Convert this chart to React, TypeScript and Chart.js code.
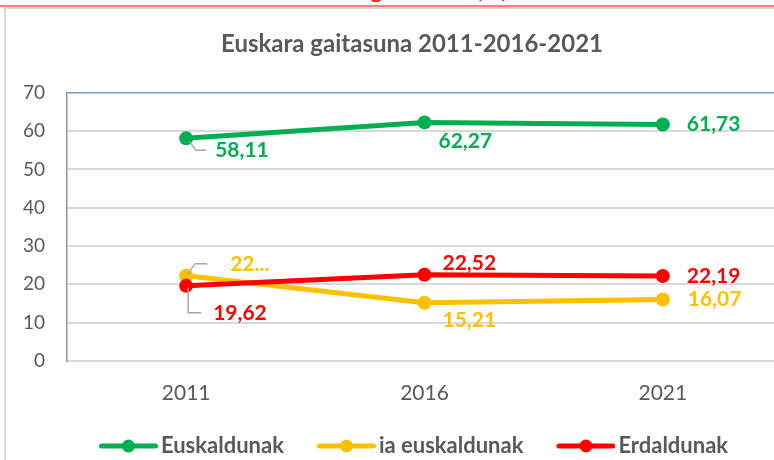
import React, { useEffect, useRef } from "react";
import { Chart, registerables } from "chart.js";

Chart.register(...registerables);

const categories = ["2011", "2016", "2021"];
const seriesNames = ["Euskaldunak", "ia euskaldunak", "Erdaldunak"];
const euskaldunak = [58.11, 62.27, 61.73];
const iaEuskaldunak = [22.27, 15.21, 16.07];
const erdaldunak = [19.62, 22.52, 22.19];
const euskaldunakLabels = ["58,11", "62,27", "61,73"];
const iaEuskaldunakLabels = ["22...", "15,21", "16,07"];
const erdaldunakLabels = ["19,62", "22,52", "22,19"];
const yMin = 0;
const yMax = 70;
const yStep = 10;

const colors = ["#00B050", "#FFC000", "#FF0000"];
const FONT = 'Lato, "Open Sans", sans-serif';
const TEXT = "#595959";

// label placement relative to the point (px): text left offset, vertical centre offset, optional leader
type Place = { dx: number; dy: number; leader?: number[][] };
const placements: Place[][] = [
  [
    { dx: 29, dy: 12, leader: [[3, 3], [10, 12], [20, 12]] },
    { dx: 14, dy: 19 },
    { dx: 24, dy: 0 },
  ],
  [
    { dx: 44, dy: -11, leader: [[1, -1], [9, -12], [21, -12]] },
    { dx: 18, dy: 18 },
    { dx: 25, dy: 0 },
  ],
  [
    { dx: 27, dy: 27, leader: [[2, 2], [2, 27], [15, 27]] },
    { dx: 18, dy: -11 },
    { dx: 24, dy: 0 },
  ],
];

// legend marker: a line with a dot, overhanging the legend box so it nearly touches the text
function legendImage(color: string) {
  const c = document.createElement("canvas");
  c.width = 70;
  c.height = 16;
  const g = c.getContext("2d")!;
  g.strokeStyle = color;
  g.lineWidth = 5;
  g.lineCap = "round";
  g.beginPath();
  g.moveTo(13.5, 8);
  g.lineTo(67.5, 8);
  g.stroke();
  g.fillStyle = color;
  g.beginPath();
  g.arc(40.5, 8, 6.5, 0, Math.PI * 2);
  g.fill();
  return c;
}

const labelPlugin = {
  id: "valueLabels",
  afterDatasetsDraw(chart: any) {
    const ctx = chart.ctx;
    const labelSets = [euskaldunakLabels, iaEuskaldunakLabels, erdaldunakLabels];
    chart.data.datasets.forEach((ds: any, i: number) => {
      const meta = chart.getDatasetMeta(i);
      meta.data.forEach((pt: any, j: number) => {
        const p = placements[i][j];
        ctx.save();
        if (p.leader) {
          ctx.strokeStyle = "#A6A6A6";
          ctx.lineWidth = 1.5;
          ctx.beginPath();
          p.leader.forEach((q, k) => {
            const x = pt.x + q[0];
            const y = pt.y + q[1];
            if (k === 0) ctx.moveTo(x, y);
            else ctx.lineTo(x, y);
          });
          ctx.stroke();
        }
        ctx.fillStyle = ds.borderColor;
        ctx.font = `bold 21px ${FONT}`;
        ctx.textAlign = "left";
        ctx.textBaseline = "middle";
        ctx.fillText(labelSets[i][j], pt.x + p.dx, pt.y + p.dy);
        ctx.restore();
      });
    });
  },
};

export default function App() {
  const ref = useRef<HTMLCanvasElement>(null);
  useEffect(() => {
    if (!ref.current) return;
    const seriesValues = [euskaldunak, iaEuskaldunak, erdaldunak];
    const images = colors.map(legendImage);
    const chart = new Chart(ref.current, {
      type: "line",
      data: {
        labels: categories,
        datasets: seriesNames.map((name, i) => ({
          label: name,
          data: seriesValues[i],
          borderColor: colors[i],
          backgroundColor: colors[i],
          pointBackgroundColor: colors[i],
          pointBorderWidth: 0,
          pointRadius: 7,
          borderWidth: 5,
          tension: 0,
          order: i === 1 ? 2 : i === 2 ? 1 : 0,
        })),
      },
      options: {
        animation: false,
        responsive: false,
        maintainAspectRatio: false,
        layout: { padding: { left: 0, right: 0, top: 0, bottom: 0 } },
        plugins: {
          tooltip: { enabled: false },
          title: {
            display: true,
            text: "Euskara gaitasuna 2011-2016-2021",
            color: TEXT,
            font: { family: FONT, size: 24, weight: "bold" },
            padding: { top: 30, bottom: 34 },
          },
          legend: {
            position: "bottom",
            labels: {
              usePointStyle: true,
              pointStyleWidth: 54,
              color: TEXT,
              font: { family: FONT, size: 22, weight: "bold" },
              padding: 30,
              sort: (a: any, b: any) => a.datasetIndex - b.datasetIndex,
              generateLabels: (ch: any) => {
                const items = Chart.defaults.plugins.legend.labels.generateLabels(ch);
                items.forEach((it: any) => {
                  it.pointStyle = images[it.datasetIndex];
                });
                return items;
              },
            },
          },
        },
        scales: {
          x: {
            offset: true,
            grid: { display: false, drawTicks: false },
            border: { color: "#D9D9D9", width: 2 },
            ticks: { color: TEXT, font: { family: FONT, size: 21 }, padding: 20 },
            afterFit: (s: any) => {
              s.height = 44;
            },
          },
          y: {
            min: yMin,
            max: yMax,
            ticks: { stepSize: yStep, color: TEXT, font: { family: FONT, size: 19 }, padding: 22 },
            grid: {
              drawTicks: false,
              color: (c: any) => (c.tick && c.tick.value === yMax ? "#8497B0" : "#D9D9D9"),
              lineWidth: (c: any) => (c.tick && c.tick.value === yMax ? 1.5 : 2),
            },
            border: { color: "#8497B0", width: 1.5 },
            afterFit: (s: any) => {
              s.width = 67;
            },
          },
          yRight: {
            position: "right",
            min: yMin,
            max: yMax,
            grid: { display: false, drawTicks: false },
            border: { display: false },
            ticks: { display: false },
            afterFit: (s: any) => {
              s.width = 42;
            },
          },
        },
      },
      plugins: [labelPlugin],
    });
    return () => chart.destroy();
  }, []);

  return (
    <div style={{ position: "fixed", left: 0, top: 0, width: 774, height: 460, overflow: "hidden", background: "#fff" }}>
      <div style={{ position: "absolute", left: 0, top: 0, width: 774, height: 5, overflow: "hidden" }}>
        <div style={{ position: "absolute", left: 0, top: -26, width: 774, textAlign: "center", color: "#FF0000", font: `24px ${FONT}`, lineHeight: "30px", whiteSpace: "nowrap", paddingLeft: 8 }}>
          Euskara gaitasuna (%)
        </div>
      </div>
      <div style={{ position: "absolute", left: 0, top: 5, width: 774, height: 2, background: "#FF7C80" }} />
      <div style={{ position: "absolute", left: 4, top: 7, width: 770, height: 2, background: "#D9D9D9" }} />
      <div style={{ position: "absolute", left: 4, top: 7, width: 2, height: 453, background: "#D9D9D9" }} />
      <canvas ref={ref} width={824} height={467} style={{ position: "absolute", left: 0, top: 0, display: "block" }} />
    </div>
  );
}
